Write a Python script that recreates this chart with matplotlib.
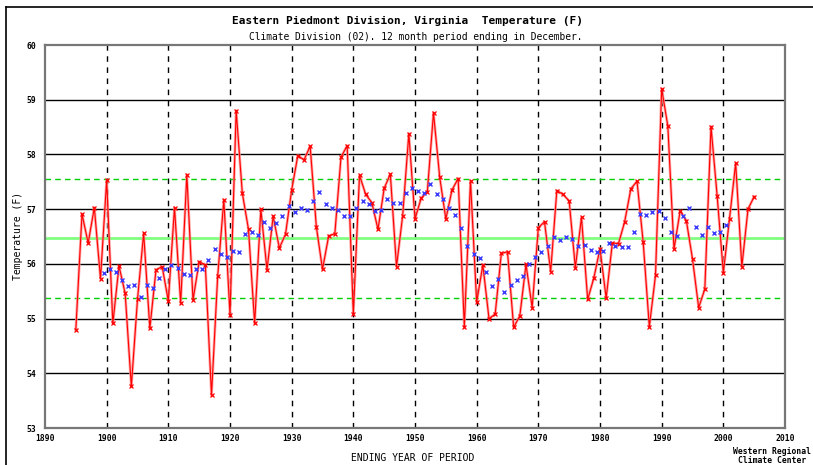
import numpy as np
import matplotlib
matplotlib.use('Agg')
import matplotlib.pyplot as plt
from matplotlib.lines import Line2D

# annual mean temperature, 12 months ending December
years = np.arange(1895, 2006)
temps = [
    54.80, 56.91, 56.38, 57.03, 55.73, 57.53, 54.91, 55.96, 55.46, 53.76,  # 1895-1904
    55.35, 56.56, 54.82, 55.89, 55.95, 55.32, 57.03, 55.28, 57.63, 55.34,  # 1905-1914
    56.04, 55.98, 53.60, 55.77, 57.17, 55.07, 58.80, 57.29, 56.63, 54.91,  # 1915-1924
    57.00, 55.89, 56.87, 56.29, 56.54, 57.35, 57.98, 57.90, 58.15, 56.68,  # 1925-1934
    55.90, 56.51, 56.55, 57.95, 58.16, 55.08, 57.62, 57.27, 57.12, 56.63,  # 1935-1944
    57.38, 57.64, 55.95, 56.88, 58.38, 56.82, 57.20, 57.32, 58.76, 57.59,  # 1945-1954
    56.82, 57.35, 57.56, 54.85, 57.52, 55.30, 55.98, 55.00, 55.08, 56.19,  # 1955-1964
    56.22, 54.84, 55.05, 55.99, 55.20, 56.66, 56.77, 55.86, 57.34, 57.27,  # 1965-1974
    57.15, 55.93, 56.85, 55.35, 55.74, 56.28, 55.37, 56.38, 56.37, 56.77,  # 1975-1984
    57.37, 57.51, 56.40, 54.85, 55.79, 59.20, 58.52, 56.27, 56.97, 56.79,  # 1985-1994
    56.09, 55.20, 55.54, 58.51, 57.24, 55.84, 56.82, 57.84, 55.95, 57.00,  # 1995-2004
    57.23,                                                                 # 2005
]

# 10-year running mean, plotted at window centre
mean_years = np.arange(1899.5, 2001.0)
mean_vals = [
    55.84, 55.90, 55.86, 55.71, 55.60, 55.62, 55.40, 55.62, 55.55, 55.75,
    55.91, 55.98, 55.93, 55.81, 55.79, 55.91, 55.90, 56.07, 56.27, 56.18,
    56.13, 56.23, 56.21, 56.55, 56.59, 56.53, 56.76, 56.66, 56.74, 56.88,
    57.05, 56.95, 57.02, 56.98, 57.14, 57.32, 57.09, 57.03, 56.98, 56.88,
    56.88, 57.03, 57.14, 57.09, 56.96, 56.98, 57.18, 57.12, 57.12, 57.30,
    57.38, 57.34, 57.30, 57.46, 57.27, 57.18, 57.03, 56.90, 56.66, 56.32,
    56.18, 56.10, 55.86, 55.60, 55.72, 55.48, 55.62, 55.71, 55.77, 55.99,
    56.12, 56.21, 56.32, 56.49, 56.44, 56.49, 56.45, 56.32, 56.35, 56.26,
    56.21, 56.23, 56.39, 56.33, 56.30, 56.30, 56.59, 56.92, 56.90, 56.95,
    56.97, 56.83, 56.59, 56.51, 56.88, 57.02, 56.68, 56.52, 56.68, 56.56,
    56.59, 56.71,
]

# long-term mean and +/- one standard deviation
overall_mean = 56.47
std_hi = 57.56
std_lo = 55.38

MONO = 'DejaVu Sans Mono'
W, H = 813, 465

fig = plt.figure(figsize=(W / 100, H / 100), dpi=100, facecolor='white')
ax = fig.add_axes([45 / W, 1 - 428 / H, 740 / W, 383 / H])

for y in range(54, 60):
    ax.axhline(y, color='black', lw=1.0, zorder=1)
for x in range(1900, 2010, 10):
    ax.axvline(x, color='black', lw=1.0, ls=(0, (4, 4)), zorder=1)

ax.axhline(overall_mean, color='#80ff80', lw=2.0, zorder=2)
ax.axhline(std_hi, color='#00d000', lw=1.0, ls=(0, (4, 3)), zorder=2)
ax.axhline(std_lo, color='#00d000', lw=1.0, ls=(0, (4, 3)), zorder=2)

ax.plot(years, temps, color='#ff9090', lw=2.0, alpha=0.8, zorder=3)
ax.plot(years, temps, color='red', lw=0.8, marker='x', ms=3, mew=0.9, zorder=4)
ax.plot(mean_years, mean_vals, ls='none', marker='x', color='#3a3aff', ms=3.2, mew=1.0, zorder=5)

ax.set_xlim(1890, 2010)
ax.set_ylim(53, 60)
ax.set_xticks(range(1890, 2011, 10))
ax.set_yticks(range(53, 61))
ax.tick_params(length=0, labelsize=5.8)
ax.tick_params(axis='y', pad=6)
ax.tick_params(axis='x', pad=4)
for lab in ax.get_xticklabels() + ax.get_yticklabels():
    lab.set_family(MONO)
    lab.set_fontweight('bold')
for sp in ax.spines.values():
    sp.set_color('#777777')
    sp.set_linewidth(1.6)

fig.text(407 / W, 1 - 21 / H, 'Eastern Piedmont Division, Virginia  Temperature (F)',
         ha='center', va='center', family=MONO, fontsize=8, fontweight='bold')
fig.text(416 / W, 1 - 37 / H, 'Climate Division (02). 12 month period ending in December.',
         ha='center', va='center', family=MONO, fontsize=6.9)
fig.text(18 / W, 1 - 236 / H, 'Temperature (F)', rotation=90,
         ha='center', va='center', family=MONO, fontsize=7)
fig.text(413 / W, 1 - 458 / H, 'ENDING YEAR OF PERIOD',
         ha='center', va='center', family=MONO, fontsize=7)
fig.text(772 / W, 1 - 456 / H, 'Western Regional\nClimate Center',
         ha='center', va='center', family=MONO, fontsize=5.8, fontweight='bold',
         linespacing=1.1)

# page frame lines
fig.add_artist(Line2D([6 / W, 1], [1 - 7 / H, 1 - 7 / H], color='black', lw=1.2))
fig.add_artist(Line2D([6 / W, 6 / W], [0, 1 - 7 / H], color='black', lw=1.2))

fig.savefig('out.png', dpi=100, facecolor='white')
